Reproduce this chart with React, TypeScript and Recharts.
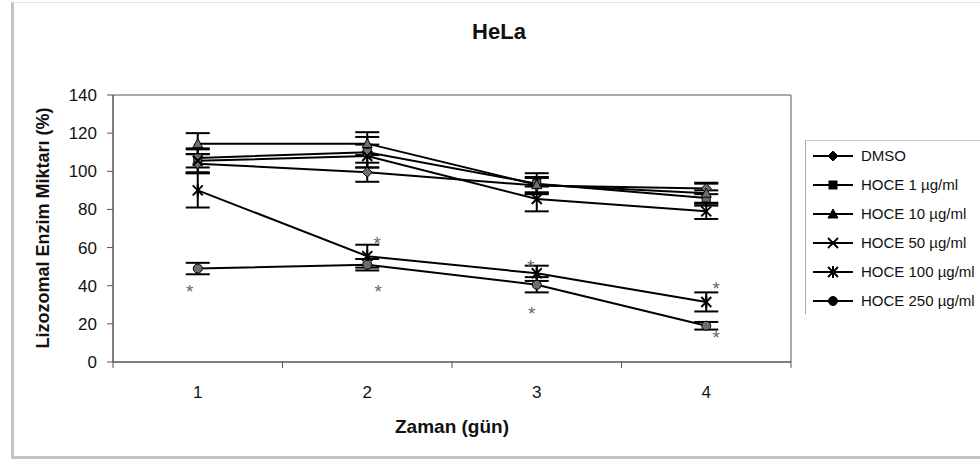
import React from "react";
import { LineChart, Line, XAxis, YAxis, ErrorBar, ReferenceLine } from "recharts";

// days of measurement
const days = [1, 2, 3, 4];

// mean values (%)
const dmso = [104, 99.5, 92.5, 91];
const hoce1 = [107, 110, 93.5, 86];
const hoce10 = [114.5, 114.5, 93, 88.5];
const hoce50 = [105.5, 108, 85.5, 79];
const hoce100 = [90, 55.5, 46.5, 31.5];
const hoce250 = [49, 51, 40.5, 19];

// error bars (+/-)
const dmsoErr = [5, 5, 4, 3];
const hoce1Err = [5, 8, 5.5, 4];
const hoce10Err = [5.5, 6, 4, 5];
const hoce50Err = [6, 6, 6.5, 4];
const hoce100Err = [9, 6, 4, 5];
const hoce250Err = [3, 3, 4, 2];

// significance stars
const hoce100Sig = [false, true, true, true];
const hoce250Sig = [true, true, true, true];

const yTicks = [0, 20, 40, 60, 80, 100, 120, 140];
const xTicks = [0.5, 1, 1.5, 2, 2.5, 3, 3.5, 4, 4.5];

const data = days.map((day, i) => ({
  day,
  dmso: dmso[i],
  dmsoErr: dmsoErr[i],
  hoce1: hoce1[i],
  hoce1Err: hoce1Err[i],
  hoce10: hoce10[i],
  hoce10Err: hoce10Err[i],
  hoce50: hoce50[i],
  hoce50Err: hoce50Err[i],
  hoce100: hoce100[i],
  hoce100Err: hoce100Err[i],
  hoce250: hoce250[i],
  hoce250Err: hoce250Err[i],
}));

type Shape = "diamond" | "square" | "triangle" | "x" | "star" | "circle";

const series: { key: string; name: string; shape: Shape; sig?: boolean[] }[] = [
  { key: "dmso", name: "DMSO", shape: "diamond" },
  { key: "hoce1", name: "HOCE 1 µg/ml", shape: "square" },
  { key: "hoce10", name: "HOCE 10 µg/ml", shape: "triangle" },
  { key: "hoce50", name: "HOCE 50 µg/ml", shape: "x" },
  { key: "hoce100", name: "HOCE 100 µg/ml", shape: "star", sig: hoce100Sig },
  { key: "hoce250", name: "HOCE 250 µg/ml", shape: "circle", sig: hoce250Sig },
];

// where the "*" sits relative to each point
const starOffsets: Record<string, [number, number][]> = {
  hoce100: [[0, 0], [10, -16], [-6, -10], [10, -17]],
  hoce250: [[-8, 19], [11, 23], [-5, 25], [10, 8]],
};

const FONT = "'Liberation Sans', Arial, sans-serif";

function Marker({ shape, cx, cy, fill, s = 5 }: any) {
  const st = { stroke: "#000", strokeWidth: 1 };
  switch (shape) {
    case "diamond":
      return <path d={`M${cx},${cy - s} L${cx + s},${cy} L${cx},${cy + s} L${cx - s},${cy} Z`} fill={fill} {...st} />;
    case "square":
      return <rect x={cx - 4} y={cy - 4} width={8} height={8} fill={fill} {...st} />;
    case "triangle":
      return <path d={`M${cx},${cy - s} L${cx + s},${cy + 4} L${cx - s},${cy + 4} Z`} fill={fill} {...st} />;
    case "x":
      return (
        <g stroke="#000" strokeWidth={2}>
          <line x1={cx - 5} y1={cy - 5} x2={cx + 5} y2={cy + 5} />
          <line x1={cx - 5} y1={cy + 5} x2={cx + 5} y2={cy - 5} />
        </g>
      );
    case "star":
      return (
        <g stroke="#000" strokeWidth={2}>
          <line x1={cx - 5} y1={cy - 5} x2={cx + 5} y2={cy + 5} />
          <line x1={cx - 5} y1={cy + 5} x2={cx + 5} y2={cy - 5} />
          <line x1={cx} y1={cy - 6} x2={cx} y2={cy + 6} />
        </g>
      );
    default:
      return <circle cx={cx} cy={cy} r={4.5} fill={fill} {...st} />;
  }
}

function DayTick({ x, y, payload }: any) {
  const v = payload.value;
  if (Number.isInteger(v)) {
    return (
      <text x={x} y={y + 36} textAnchor="middle" fontSize={17} fill="#111">
        {v}
      </text>
    );
  }
  return <line x1={x} x2={x} y1={y} y2={y + 6} stroke="#555" />;
}

function starLabel(key: string, sig?: boolean[]) {
  return (p: any) => {
    if (!sig || !sig[p.index]) return <g key={`s-${key}-${p.index}`} />;
    const [dx, dy] = starOffsets[key][p.index];
    return (
      <text key={`s-${key}-${p.index}`} x={p.x + dx} y={p.y + dy + 10} textAnchor="middle" fontSize={19} fill="#666">
        *
      </text>
    );
  };
}

function LegendBox() {
  return (
    <div
      style={{
        position: "absolute",
        left: 805,
        top: 140,
        width: 200,
        height: 174,
        borderLeft: "1px solid #a8a8a8",
        borderTop: "1px solid #c8c8c8",
        boxSizing: "border-box",
      }}
    >
      {series.map((s) => (
        <div key={s.key} style={{ display: "flex", alignItems: "center", height: 29 }}>
          <svg width={40} height={16} style={{ marginLeft: 7 }}>
            <line x1={0} x2={40} y1={8} y2={8} stroke="#000" strokeWidth={2} />
            <Marker shape={s.shape} cx={20} cy={8} fill="#000" />
          </svg>
          <span style={{ marginLeft: 8, fontSize: 15, color: "#111", whiteSpace: "nowrap" }}>{s.name}</span>
        </div>
      ))}
    </div>
  );
}

export default function App() {
  return (
    <div style={{ position: "relative", width: 980, height: 461, overflow: "hidden", fontFamily: FONT, background: "#fff" }}>
      <style>{"body{margin:0}"}</style>
      <div
        style={{
          position: "absolute",
          left: 11,
          top: 2,
          width: 980,
          height: 457,
          borderLeft: "3px solid #c4c4c4",
          borderTop: "1px solid #e2e2e2",
          borderBottom: "3px solid #c4c4c4",
          boxSizing: "border-box",
        }}
      />
      <LineChart width={980} height={461} data={data} margin={{ top: 95, right: 189, bottom: 0, left: 13 }}>
        <XAxis
          dataKey="day"
          type="number"
          domain={[0.5, 4.5]}
          ticks={xTicks}
          interval={0}
          tickLine={false}
          tickSize={0}
          tickMargin={0}
          tick={(p: any) => <DayTick key={`t-${p.index}`} {...p} />}
          height={99}
          axisLine={{ stroke: "#555", strokeWidth: 1.5 }}
        />
        <YAxis
          domain={[0, 140]}
          ticks={yTicks}
          width={100}
          tickSize={6}
          tickMargin={10}
          tick={{ fill: "#111", fontSize: 17 }}
          axisLine={{ stroke: "#555", strokeWidth: 1.5 }}
          tickLine={{ stroke: "#555" }}
          allowDataOverflow
        />
        <ReferenceLine y={140} stroke="#8c8c8c" strokeWidth={1.5} />
        <ReferenceLine x={4.5} stroke="#8c8c8c" strokeWidth={1.5} />
        {series.map((s) => (
          <Line
            key={s.key}
            dataKey={s.key}
            name={s.name}
            stroke="#000"
            strokeWidth={2}
            isAnimationActive={false}
            dot={(p: any) => <Marker key={`${s.key}-${p.index}`} shape={s.shape} cx={p.cx} cy={p.cy} fill="#6e6e6e" />}
            activeDot={false}
            label={starLabel(s.key, s.sig)}
          >
            <ErrorBar dataKey={`${s.key}Err`} direction="y" width={12} stroke="#000" strokeWidth={2} />
          </Line>
        ))}
      </LineChart>
      <div
        style={{
          position: "absolute",
          left: 499,
          top: 21,
          transform: "translateX(-50%)",
          fontSize: 22,
          lineHeight: "22px",
          fontWeight: "bold",
          color: "#111",
        }}
      >
        HeLa
      </div>
      <div
        style={{
          position: "absolute",
          left: 43,
          top: 228,
          transform: "translate(-50%, -50%) rotate(-90deg)",
          fontSize: 18,
          lineHeight: "18px",
          fontWeight: "bold",
          whiteSpace: "nowrap",
          color: "#111",
        }}
      >
        Lizozomal Enzim Miktarı (%)
      </div>
      <div
        style={{
          position: "absolute",
          left: 452,
          top: 426,
          transform: "translate(-50%, -50%)",
          fontSize: 19,
          lineHeight: "19px",
          fontWeight: "bold",
          whiteSpace: "nowrap",
          color: "#111",
        }}
      >
        Zaman (gün)
      </div>
      <LegendBox />
    </div>
  );
}
